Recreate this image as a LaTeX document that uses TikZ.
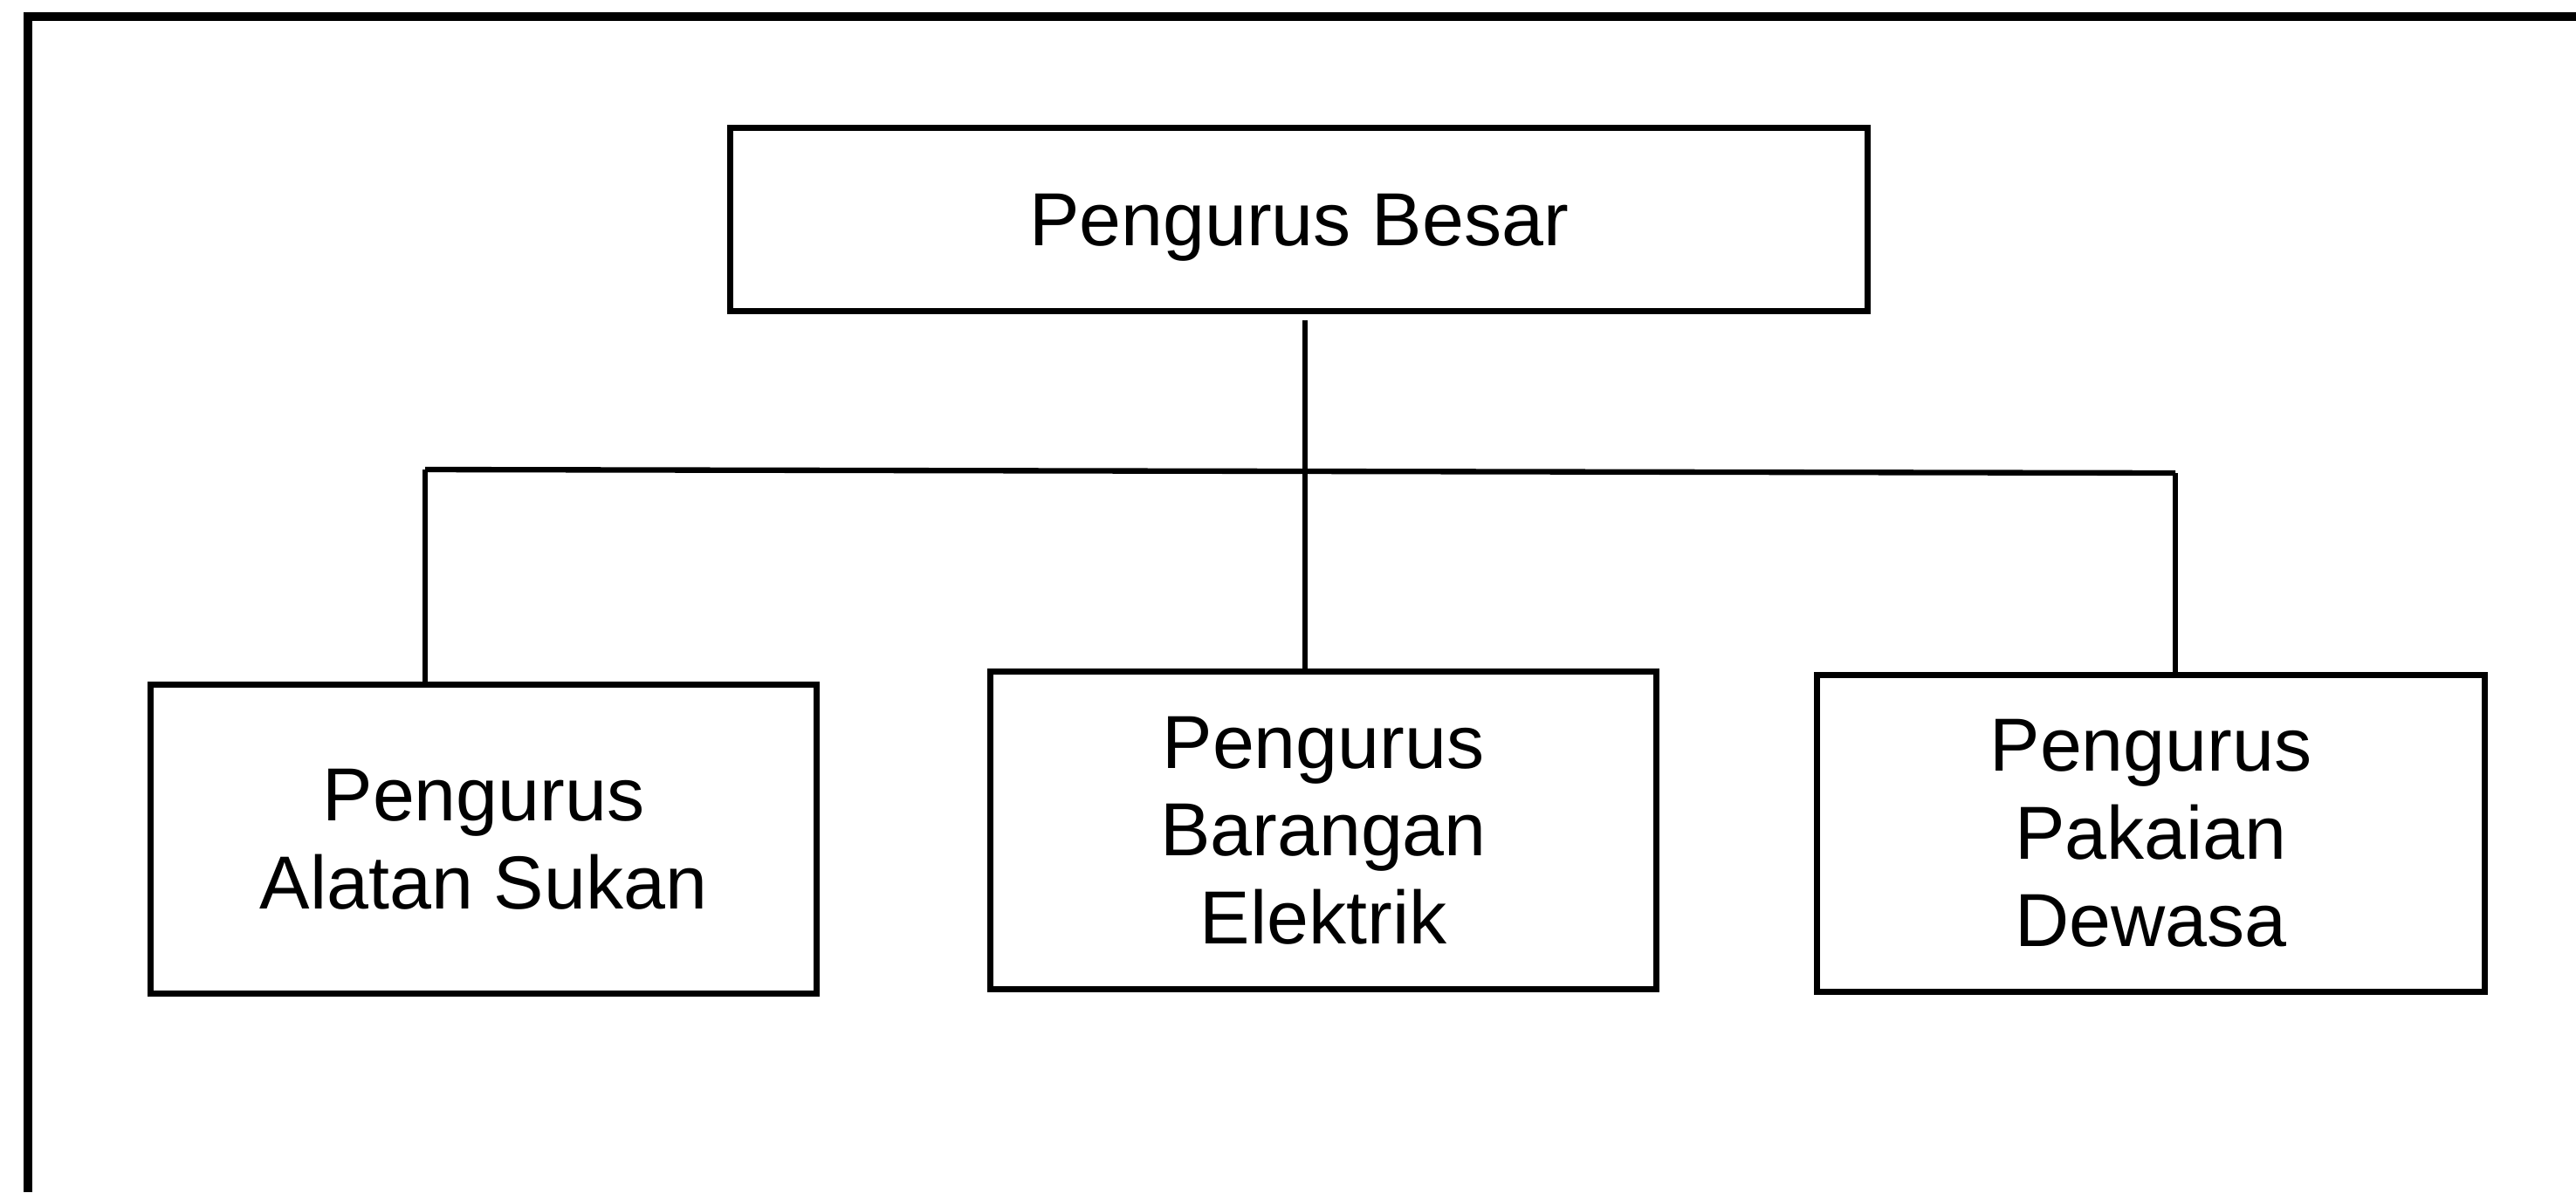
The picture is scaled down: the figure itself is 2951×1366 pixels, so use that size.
\documentclass[tikz,border=0pt]{standalone}
\usepackage{fontspec}
\setmainfont{Liberation Sans}
\begin{document}
\begin{tikzpicture}[x=0.01cm,y=-0.01cm,
  box/.style={draw=black,line width=2pt,rectangle,align=center,inner sep=0pt,
    font=\fontsize{24.5}{28.6}\selectfont},
  frame/.style={draw=black,line width=2.8pt},
  link/.style={draw=black,line width=1.8pt}]
\useasboundingbox (0,0) rectangle (2951,1366);
\fill[white] (0,0) rectangle (2951,1366);
\draw[frame] (2951,19) -- (32,19) -- (32,1366);
\node[box,text depth=0pt,minimum width=13.02cm,minimum height=2.10cm] (top) at (1488,251.5) {Pengurus Besar};
\node[box,minimum width=7.63cm,minimum height=3.54cm] (left) at (554,961.5) {Pengurus\\Alatan Sukan};
\node[box,minimum width=7.63cm,minimum height=3.64cm] (mid) at (1516,951.5) {Pengurus\\Barangan\\Elektrik};
\node[box,minimum width=7.65cm,minimum height=3.63cm] (right) at (2464,955) {Pengurus\\Pakaian\\Dewasa};
\coordinate (barL) at (487,538);
\coordinate (barR) at (2492,542);
\draw[link,line width=1.5pt] ([xshift=2]top.south) ++(0,7) -- ([xshift=2]top.south |- mid.north);
\draw[link] (barL) -- (barR);
\draw[link] (barL) -- (barL |- left.north);
\draw[link] (barR) -- (barR |- right.north);
\end{tikzpicture}
\end{document}
